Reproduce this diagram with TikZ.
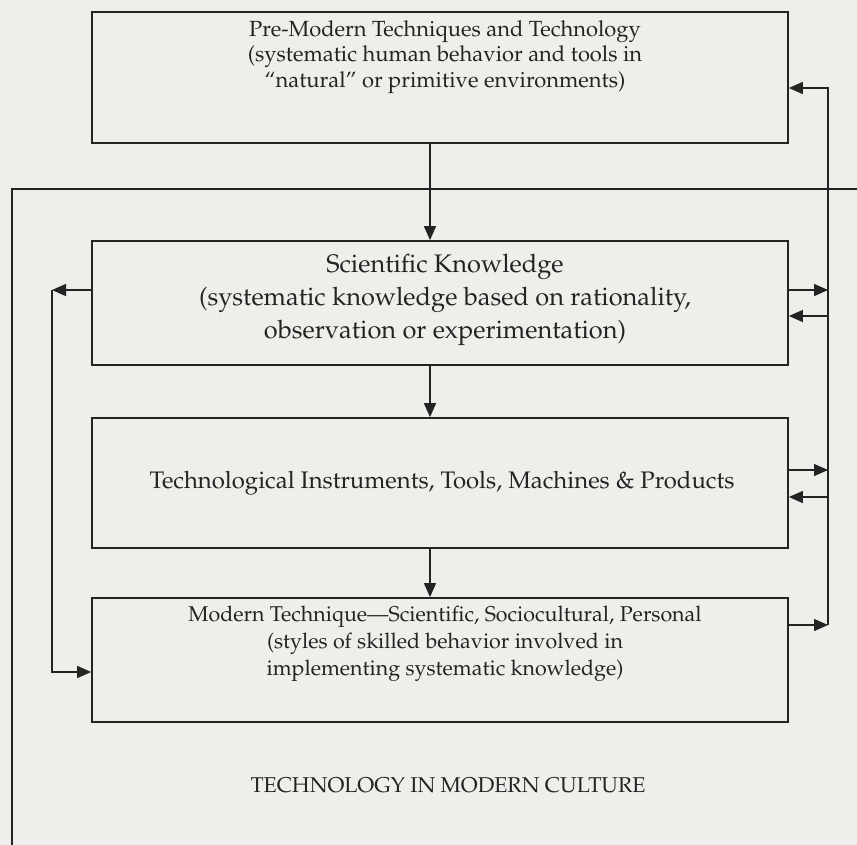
\documentclass[tikz,border=0pt]{standalone}
\usepackage[T1]{fontenc}
\usepackage{mathpazo}
\usetikzlibrary{arrows.meta}
\definecolor{paper}{RGB}{238,238,235}
\definecolor{ink}{RGB}{35,35,35}
\begin{document}
\begin{tikzpicture}[x=1bp,y=-1bp,
  box/.style={draw=ink, line width=1.7bp, inner sep=0pt},
  conn/.style={draw=ink, line width=1.4bp},
  arr/.style={conn,-{Triangle[length=14bp,width=12bp]}},
  txt/.style={align=center, text=ink},
  fpre/.style={txt, font=\fontsize{22}{25.5}\selectfont},
  fsci/.style={txt, font=\fontsize{25.5}{33}\selectfont},
  ftech/.style={txt, font=\fontsize{24}{30}\selectfont},
  fmod/.style={txt, font=\fontsize{21.5}{27}\selectfont}]
\useasboundingbox (0,0) rectangle (857,845);
\fill[paper] (0,0) rectangle (857,845);
\clip (0,0) rectangle (857,845);
% outer frame (cropped at right and bottom)
\draw[draw=ink, line width=2.7bp] (880,189) -| (12,880);
% boxes
\node[box, minimum width=696bp, minimum height=131bp] (pre) at (440,77.5) {};
\node[box, minimum width=696bp, minimum height=124bp] (sci) at (440,303) {};
\node[box, minimum width=696bp, minimum height=130bp] (tech) at (440,483) {};
\node[box, minimum width=696bp, minimum height=124bp] (mod) at (440,660) {};
% texts
\node[fpre] (preT) at (445,57) {Pre-Modern Techniques and Technology\\(systematic human behavior and tools in\\``natural'' or primitive environments)};
\node[fsci] (sciT) at (445,300) {Scientific Knowledge\\(systematic knowledge based on rationality,\\observation or experimentation)};
\node[ftech] (techT) at (442,483) {Technological Instruments, Tools, Machines \& Products};
\node[fmod] (modT) at (445,644) {Modern Technique---Scientific, Sociocultural, Personal\\(styles of skilled behavior involved in\\implementing systematic knowledge)};
\node[fmod] (title) at (448,785) {TECHNOLOGY IN MODERN CULTURE};
% bus coordinates
\coordinate (R) at (828,0);
\coordinate (L) at (52,0);
% main vertical flow
\draw[arr] (pre.south -| 430,0) -- (sci.north -| 430,0);
\draw[arr] (sci.south -| 430,0) -- (tech.north -| 430,0);
\draw[arr] (tech.south -| 430,0) -- (mod.north -| 430,0);
% right side feedback
\draw[arr] (sci.east |- 0,290) -- (R |- 0,290);
\draw[arr] (R |- 0,316) -- (sci.east |- 0,316);
\draw[arr] (tech.east |- 0,470) -- (R |- 0,470);
\draw[arr] (R |- 0,497) -- (tech.east |- 0,497);
\draw[arr] (mod.east |- 0,625) -- (R |- 0,625);
\draw[arr] (R |- 0,625) -- (R |- 0,88) -- (pre.east |- 0,88);
% left side link
\draw[arr] (sci.west |- 0,290) -- (L |- 0,290);
\draw[arr] (L |- 0,290) -- (L |- 0,672) -- (mod.west |- 0,672);
\end{tikzpicture}
\end{document}
